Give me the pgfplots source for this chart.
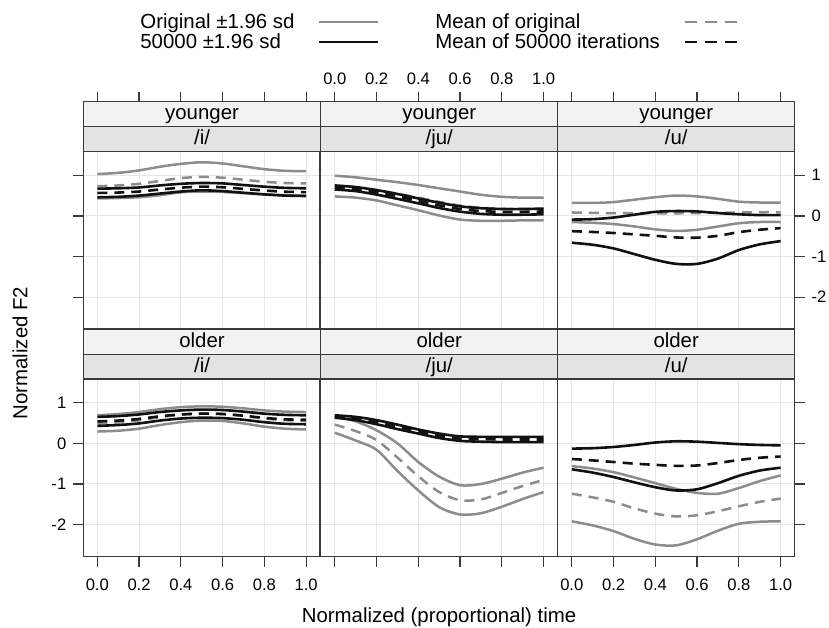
\documentclass[border=0pt]{standalone}
\usepackage{pgfplots}
\pgfplotsset{compat=1.18}
\usepackage{pgfplotstable}
\usepackage{fontspec}
\setmainfont{Liberation Sans}
\definecolor{frame}{HTML}{3A3A3A}
\definecolor{gridc}{HTML}{E6E6E6}
\definecolor{stripA}{HTML}{F2F2F2}
\definecolor{stripB}{HTML}{E3E3E3}
\definecolor{grayline}{HTML}{8C8C8C}
\definecolor{blackline}{HTML}{111111}
\newcommand{\ticksize}{\fontsize{8.3}{9}\selectfont}
\newcommand{\txtsize}{\fontsize{10.2}{12}\selectfont}

% younger /i/
\pgfplotstableread{
x gu gl gm bu bl bm
0.0 1.03 0.43 0.73 0.67 0.46 0.565
0.1 1.06 0.44 0.75 0.68 0.47 0.575
0.2 1.12 0.46 0.79 0.70 0.50 0.600
0.3 1.21 0.51 0.86 0.75 0.55 0.650
0.4 1.28 0.58 0.93 0.79 0.60 0.695
0.5 1.32 0.60 0.96 0.81 0.63 0.720
0.6 1.29 0.59 0.94 0.80 0.61 0.705
0.7 1.22 0.56 0.89 0.76 0.57 0.665
0.8 1.15 0.53 0.84 0.72 0.53 0.625
0.9 1.11 0.51 0.81 0.69 0.50 0.595
1.0 1.10 0.50 0.80 0.68 0.49 0.585
}\youngi
% younger /ju/
\pgfplotstableread{
x gu gl gm bu bl bm
0.0 0.99 0.48 0.735 0.75 0.65 0.70
0.1 0.95 0.45 0.70 0.71 0.61 0.66
0.2 0.89 0.38 0.635 0.635 0.525 0.58
0.3 0.83 0.26 0.545 0.54 0.42 0.48
0.4 0.76 0.14 0.45 0.43 0.31 0.37
0.5 0.68 0.01 0.345 0.325 0.195 0.26
0.6 0.60 -0.09 0.255 0.235 0.105 0.17
0.7 0.52 -0.12 0.20 0.19 0.05 0.12
0.8 0.47 -0.12 0.175 0.17 0.03 0.10
0.9 0.45 -0.11 0.17 0.17 0.03 0.10
1.0 0.45 -0.11 0.17 0.18 0.04 0.11
}\youngju
% younger /u/
\pgfplotstableread{
x gu gl gm bu bl bm
0.0 0.32 -0.15 0.085 -0.09 -0.66 -0.375
0.1 0.32 -0.17 0.075 -0.08 -0.71 -0.395
0.2 0.34 -0.20 0.07 -0.04 -0.80 -0.42
0.3 0.40 -0.26 0.07 0.03 -0.94 -0.455
0.4 0.46 -0.33 0.065 0.10 -1.08 -0.49
0.5 0.50 -0.37 0.065 0.12 -1.18 -0.53
0.6 0.48 -0.34 0.07 0.11 -1.18 -0.535
0.7 0.42 -0.26 0.08 0.07 -1.05 -0.49
0.8 0.35 -0.18 0.085 0.04 -0.84 -0.40
0.9 0.33 -0.15 0.09 0.02 -0.70 -0.34
1.0 0.33 -0.15 0.09 0.02 -0.62 -0.30
}\youngu
% older /i/
\pgfplotstableread{
x gu gl gm bu bl bm
0.0 0.69 0.29 0.49 0.65 0.43 0.54
0.1 0.72 0.31 0.515 0.67 0.45 0.56
0.2 0.77 0.36 0.565 0.71 0.49 0.60
0.3 0.84 0.45 0.645 0.77 0.56 0.665
0.4 0.89 0.52 0.705 0.81 0.61 0.71
0.5 0.91 0.56 0.735 0.83 0.63 0.73
0.6 0.90 0.55 0.725 0.82 0.62 0.72
0.7 0.86 0.49 0.675 0.78 0.58 0.68
0.8 0.81 0.41 0.61 0.73 0.52 0.625
0.9 0.78 0.36 0.57 0.70 0.48 0.59
1.0 0.77 0.34 0.555 0.69 0.47 0.58
}\oldi
% older /ju/
\pgfplotstableread{
x gu gl gm bu bl bm
0.0 0.66 0.26 0.46 0.69 0.63 0.66
0.1 0.54 0.07 0.30 0.65 0.57 0.61
0.2 0.32 -0.16 0.08 0.57 0.47 0.52
0.3 0.00 -0.68 -0.35 0.46 0.35 0.405
0.4 -0.46 -1.16 -0.81 0.34 0.24 0.29
0.5 -0.82 -1.57 -1.20 0.24 0.13 0.185
0.6 -1.03 -1.75 -1.40 0.17 0.06 0.115
0.7 -1.00 -1.72 -1.38 0.16 0.04 0.10
0.8 -0.87 -1.56 -1.22 0.16 0.03 0.095
0.9 -0.72 -1.37 -1.05 0.16 0.03 0.095
1.0 -0.60 -1.20 -0.90 0.16 0.03 0.095
}\oldju
% older /u/
\pgfplotstableread{
x gu gl gm bu bl bm
0.0 -0.56 -1.92 -1.24 -0.13 -0.64 -0.385
0.1 -0.62 -2.02 -1.33 -0.12 -0.72 -0.42
0.2 -0.71 -2.16 -1.44 -0.09 -0.83 -0.46
0.3 -0.84 -2.35 -1.60 -0.04 -0.96 -0.50
0.4 -0.98 -2.49 -1.73 0.02 -1.08 -0.53
0.5 -1.12 -2.51 -1.80 0.05 -1.16 -0.555
0.6 -1.22 -2.36 -1.77 0.04 -1.13 -0.545
0.7 -1.24 -2.15 -1.67 0.01 -0.98 -0.485
0.8 -1.10 -1.98 -1.55 -0.02 -0.80 -0.41
0.9 -0.93 -1.93 -1.44 -0.04 -0.67 -0.355
1.0 -0.79 -1.92 -1.36 -0.05 -0.60 -0.325
}\oldu

\pgfplotsset{
  gline/.style={color=grayline, line width=1.25pt, smooth, no markers},
  gdash/.style={gline, dash pattern=on 5pt off 3.5pt},
  bline/.style={color=blackline, line width=1.3pt, smooth, no markers},
  bdash/.style={bline, dash pattern=on 5pt off 3.5pt},
  lat/.style={
    scale only axis, width=118.4pt, height=113.8pt,
    anchor=south west,
    xmin=-0.067, xmax=1.067, ymin=-2.79, ymax=2.81,
    xtick={0,0.2,0.4,0.6,0.8,1}, ytick={-2,-1,0,1},
    grid=major, major grid style={color=gridc, line width=0.5pt},
    axis line style={color=frame, line width=0.65pt},
    tick align=outside, major tick length=5pt,
    tick style={color=frame, line width=0.6pt},
    tick label style={font=\ticksize},
    /pgf/number format/assume math mode=true,
    xticklabel style={/pgf/number format/.cd, fixed, fixed zerofill, precision=1},
  },
  nox/.style={xticklabel={\phantom{0}}},
  noy/.style={yticklabel={\phantom{0}}},
  lowx/.style={xticklabel shift=2.5pt},
}
\newcommand{\curves}[1]{%
  \addplot[gline] table[x=x,y=gu]{#1};
  \addplot[gline] table[x=x,y=gl]{#1};
  \addplot[gdash] table[x=x,y=gm]{#1};
  \addplot[bline] table[x=x,y=bu]{#1};
  \addplot[bline] table[x=x,y=bl]{#1};
  \addplot[bdash] table[x=x,y=bm]{#1};
}

\begin{document}
\begin{tikzpicture}[x=0.5pt,y=-0.5pt]
\path[use as bounding box] (0,0) rectangle (829,627);

% top row
\begin{axis}[lat, at={(41.65pt,-164.65pt)}, xtick pos=upper, nox, ytick pos=left, noy]
\curves{\youngi}
\end{axis}
\begin{axis}[lat, at={(160.4pt,-164.65pt)}, xtick pos=upper, xticklabel pos=upper, ytick style={draw=none}, noy]
\curves{\youngju}
\end{axis}
\begin{axis}[lat, at={(278.9pt,-164.65pt)}, xtick pos=upper, nox, ytick pos=right, yticklabel pos=right]
\curves{\youngu}
\end{axis}
% bottom row
\begin{axis}[lat, at={(41.65pt,-278.35pt)}, xtick pos=lower, lowx, ytick pos=left]
\curves{\oldi}
\end{axis}
\begin{axis}[lat, at={(160.4pt,-278.35pt)}, xtick pos=lower, nox, ytick style={draw=none}, noy]
\curves{\oldju}
\end{axis}
\begin{axis}[lat, at={(278.9pt,-278.35pt)}, xtick pos=lower, lowx, ytick pos=right, noy]
\curves{\oldu}
\end{axis}

% strips
\foreach \xa/\xb/\lab in {83.3/320.8/{/i/}, 320.8/557.8/{/ju/}, 557.8/794.6/{/u/}}{
  \filldraw[fill=stripA, draw=frame, line width=0.65pt] (\xa,101.7) rectangle (\xb,126.7);
  \filldraw[fill=stripB, draw=frame, line width=0.65pt] (\xa,126.7) rectangle (\xb,151.7);
  \node[anchor=base, inner sep=0pt, font=\txtsize] at ({(\xa+\xb)/2},119.5) {younger};
  \node[anchor=base, inner sep=0pt, font=\txtsize] at ({(\xa+\xb)/2},144.5) {\lab};
  \filldraw[fill=stripA, draw=frame, line width=0.65pt] (\xa,329.3) rectangle (\xb,354.2);
  \filldraw[fill=stripB, draw=frame, line width=0.65pt] (\xa,354.2) rectangle (\xb,379.1);
  \node[anchor=base, inner sep=0pt, font=\txtsize] at ({(\xa+\xb)/2},347) {older};
  \node[anchor=base, inner sep=0pt, font=\txtsize] at ({(\xa+\xb)/2},372) {\lab};
}

% legend
\node[anchor=base west, inner sep=0pt, font=\txtsize] at (140,28.5) {Original ±1.96 sd};
\node[anchor=base west, inner sep=0pt, font=\txtsize] at (140,48.5) {50000 ±1.96 sd};
\draw[color=grayline, line width=1.25pt] (319,22) -- (378,22);
\draw[color=blackline, line width=1.3pt] (319,42) -- (378,42);
\node[anchor=base west, inner sep=0pt, font=\txtsize] at (435,28.5) {Mean of original};
\node[anchor=base west, inner sep=0pt, font=\txtsize] at (435,48.5) {Mean of 50000 iterations};
\draw[color=grayline, line width=1.25pt, dash pattern=on 6pt off 4pt] (685,22) -- (740,22);
\draw[color=blackline, line width=1.3pt, dash pattern=on 6pt off 4pt] (685,42) -- (740,42);

% axis titles
\node[rotate=90, font=\txtsize, inner sep=0pt] at (20,353) {Normalized F2};
\node[font=\txtsize, inner sep=0pt] at (439,617) {Normalized (proportional) time};
\end{tikzpicture}
\end{document}
